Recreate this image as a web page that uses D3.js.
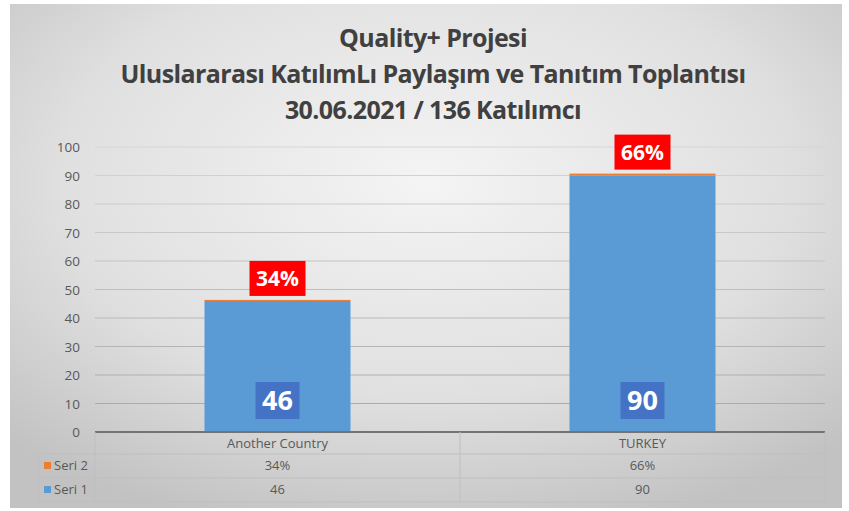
<!DOCTYPE html>
<html>
<head>
<meta charset="utf-8">
<script src="https://cdn.jsdelivr.net/npm/d3@7"></script>
<style>
  body { margin: 0; background: #fff; }
  svg { display: block; font-family: "Open Sans", sans-serif; }
</style>
</head>
<body>
<div id="chart"></div>
<script>
// data
const categories = ["Another Country", "TURKEY"];
const seri1 = [46, 90];
const seri2 = [0.34, 0.66];
const seri2Labels = ["34%", "66%"];
const seriNames = ["Seri 2", "Seri 1"];
const yTicks = [0, 10, 20, 30, 40, 50, 60, 70, 80, 90, 100];
const titleLines = ["Quality+ Projesi", "Uluslararası KatılımLı Paylaşım ve Tanıtım Toplantısı", "30.06.2021 / 136 Katılımcı"];

const width = 849, height = 511;
const plotL = 95, plotR = 825, plotT = 147, plotB = 432;
const tableLeft = 39, rowH = 24;

const svg = d3.select("#chart")
  .append("svg")
  .attr("width", width)
  .attr("height", height);

const defs = svg.append("defs");
const grad = defs.append("radialGradient")
  .attr("id", "bg")
  .attr("cx", "50%").attr("cy", "35%").attr("r", "72%");
grad.append("stop").attr("offset", "0%").attr("stop-color", "#f4f4f4");
grad.append("stop").attr("offset", "60%").attr("stop-color", "#e0e0e0");
grad.append("stop").attr("offset", "100%").attr("stop-color", "#c2c2c2");

svg.append("rect")
  .attr("x", 10).attr("y", 4)
  .attr("width", 832).attr("height", 504)
  .attr("fill", "url(#bg)");

// title
svg.append("g")
  .attr("text-anchor", "middle")
  .attr("font-weight", "bold")
  .attr("font-size", 25)
  .attr("fill", "#404040")
  .selectAll("text")
  .data(titleLines)
  .join("text")
  .attr("x", 433)
  .attr("y", (d, i) => 47 + i * 36)
  .attr("letter-spacing", -0.6)
  .text(d => d);

const x = d3.scaleBand().domain(categories).range([plotL, plotR]).paddingInner(0.6).paddingOuter(0.3);
const y = d3.scaleLinear().domain([0, 100]).range([plotB, plotT]);

// gridlines
svg.append("g")
  .selectAll("line")
  .data(yTicks.filter(d => d > 0))
  .join("line")
  .attr("x1", plotL).attr("x2", plotR)
  .attr("y1", d => y(d)).attr("y2", d => y(d))
  .attr("stroke", d => d3.interpolateRgb("#a6a6a6", "#d6d6d6")(d / 100))
  .attr("stroke-width", 1);

// y tick labels
svg.append("g")
  .attr("font-size", 13.5)
  .attr("fill", "#595959")
  .attr("text-anchor", "end")
  .selectAll("text")
  .data(yTicks)
  .join("text")
  .attr("x", 80)
  .attr("y", d => y(d) + 5)
  .text(d => d);

// stacked bars
const rows = categories.map((c, i) => ({ cat: c, s1: seri1[i], s2: seri2[i] }));
const stack = d3.stack().keys(["s1", "s2"])(rows);
const colors = { s1: "#5b9bd5", s2: "#ed7d31" };

svg.append("g")
  .selectAll("g")
  .data(stack)
  .join("g")
  .attr("fill", d => colors[d.key])
  .selectAll("rect")
  .data(d => d)
  .join("rect")
  .attr("x", d => x(d.data.cat))
  .attr("width", x.bandwidth())
  .attr("y", d => y(d[1]))
  .attr("height", d => Math.max(1.2, y(d[0]) - y(d[1])));

// axis line
svg.append("line")
  .attr("x1", plotL).attr("x2", plotR)
  .attr("y1", plotB).attr("y2", plotB)
  .attr("stroke", "#737373").attr("stroke-width", 2);

// percent labels (red)
const pct = svg.append("g")
  .selectAll("g")
  .data(rows)
  .join("g")
  .attr("transform", d => `translate(${x(d.cat) + x.bandwidth() / 2},${y(d.s1 + d.s2) - 22})`);
pct.append("rect")
  .attr("x", -28).attr("y", -17)
  .attr("width", 56).attr("height", 35)
  .attr("fill", "#ff0000");
pct.append("text")
  .attr("text-anchor", "middle")
  .attr("y", 8)
  .attr("font-size", 21)
  .attr("font-weight", "bold")
  .attr("fill", "#fff")
  .text((d, i) => seri2Labels[i]);

// value labels (blue boxes)
const val = svg.append("g")
  .selectAll("g")
  .data(rows)
  .join("g")
  .attr("transform", d => `translate(${x(d.cat) + x.bandwidth() / 2},${plotB - 32})`);
val.append("rect")
  .attr("x", -22).attr("y", -18)
  .attr("width", 44).attr("height", 37)
  .attr("fill", "#4472c4");
val.append("text")
  .attr("text-anchor", "middle")
  .attr("y", 10)
  .attr("font-size", 27)
  .attr("font-weight", "bold")
  .attr("fill", "#fff")
  .text(d => d.s1);

// data table
const table = svg.append("g")
  .attr("stroke", "#bfbfbf")
  .attr("stroke-width", 1)
  .attr("fill", "none");
[plotB + 22, plotB + 22 + rowH, plotB + 22 + 2 * rowH].forEach(yy => {
  table.append("line")
    .attr("x1", tableLeft).attr("x2", plotR)
    .attr("y1", yy).attr("y2", yy);
});
table.append("line").attr("x1", tableLeft).attr("x2", tableLeft).attr("y1", plotB + 22).attr("y2", plotB + 22 + 2 * rowH);
[plotL, (plotL + plotR) / 2, plotR].forEach(xx => {
  table.append("line").attr("x1", xx).attr("x2", xx).attr("y1", plotB).attr("y2", plotB + 22 + 2 * rowH);
});

const tText = svg.append("g")
  .attr("font-size", 13)
  .attr("fill", "#595959")
  .attr("text-anchor", "middle");
const colX = categories.map(c => x(c) + x.bandwidth() / 2);
categories.forEach((c, i) => {
  tText.append("text").attr("x", colX[i]).attr("y", plotB + 16).text(c);
  tText.append("text").attr("x", colX[i]).attr("y", plotB + 22 + 16).text(seri2Labels[i]);
  tText.append("text").attr("x", colX[i]).attr("y", plotB + 22 + rowH + 16).text(seri1[i]);
});

// legend keys in table
const leg = svg.append("g")
  .selectAll("g")
  .data(seriNames)
  .join("g")
  .attr("transform", (d, i) => `translate(${tableLeft + 5},${plotB + 22 + i * rowH})`);
leg.append("rect")
  .attr("x", 0).attr("y", 8)
  .attr("width", 7).attr("height", 7)
  .attr("fill", (d, i) => i === 0 ? colors.s2 : colors.s1);
leg.append("text")
  .attr("x", 10).attr("y", 16)
  .attr("font-size", 13)
  .attr("fill", "#595959")
  .text(d => d);
</script>
</body>
</html>
